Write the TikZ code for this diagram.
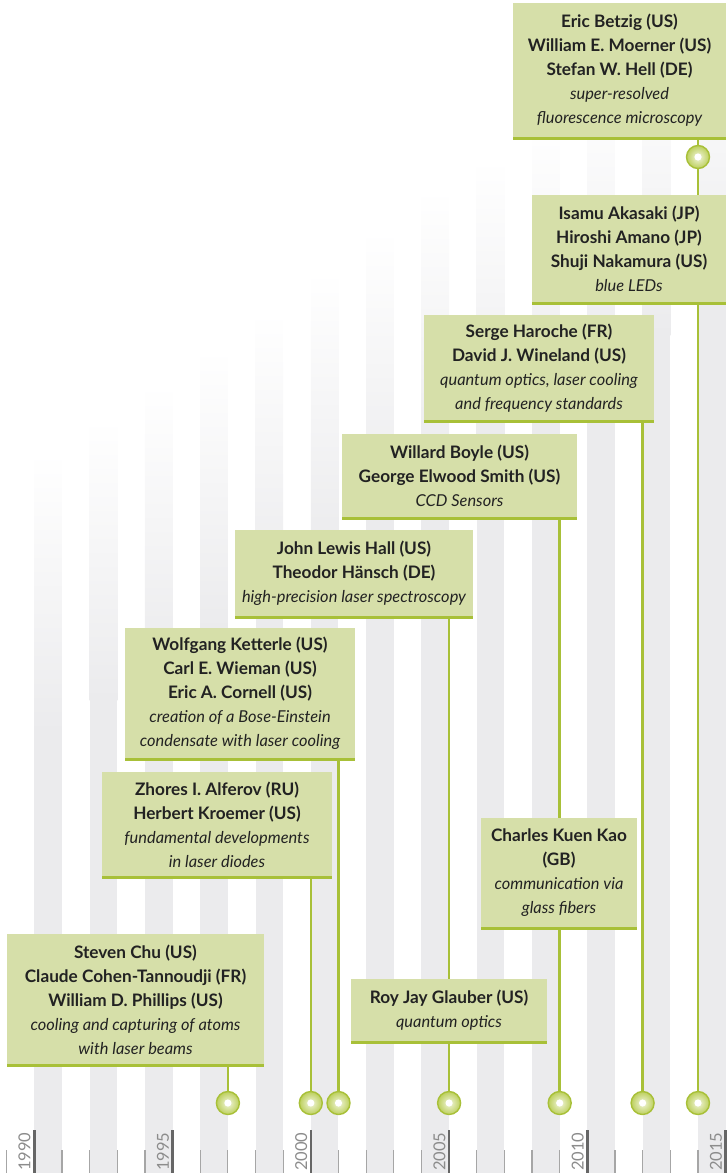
\documentclass[tikz,border=0pt]{standalone}
\usepackage{fontspec}
\setmainfont{Lato}
\usetikzlibrary{positioning}
\definecolor{leaf}{RGB}{214,223,169}
\definecolor{stemgreen}{RGB}{168,192,56}
\definecolor{dotgreen}{RGB}{188,207,92}
\definecolor{dotlight}{RGB}{242,246,222}
\definecolor{stripe}{RGB}{235,235,237}
\definecolor{ink}{RGB}{34,34,34}
\definecolor{yeargrey}{RGB}{140,140,140}
\newcommand{\motiv}[1]{{\normalfont\itshape\fontsize{16.4}{24}\selectfont #1}}

\begin{document}
\begin{tikzpicture}[x=1pt,y=-1pt,
  prize/.style={anchor=north west,fill=leaf,inner sep=0pt,outer sep=0pt,align=center,
                text=ink,font=\fontsize{17.2}{24}\selectfont\bfseries},
  rim/.style={draw=stemgreen,line width=3pt},
  stem/.style={draw=stemgreen,line width=2.5pt},
  dot/.style={circle,minimum size=23pt,inner sep=0pt,draw=stemgreen,line width=1.4pt,
              inner color=dotlight,outer color=dotgreen,
              path picture={\fill[white] (path picture bounding box.center) circle (3.6);}},
  tick/.style={draw=black!35,line width=1.2pt},
  bigtick/.style={draw=black!60,line width=2.6pt},
  yearlbl/.style={rotate=90,anchor=base west,inner sep=0pt,text=yeargrey,
                  font=\fontsize{16.5}{16.5}\selectfont}]
\useasboundingbox (0,0) rectangle (727,1173);

% background stripes, fading upwards
\foreach \k/\t in {0/453,1/420,2/385,3/350,4/313,5/272,6/231,7/190,8/160,9/125,10/90,11/55,12/20}{
  \pgfmathsetmacro{\xa}{34.3+55.3*\k}
  \pgfmathsetmacro{\xb}{\xa+27.65}
  \shade[top color=white,bottom color=stripe] (\xa,\t) rectangle (\xb,\t+280);
  \fill[stripe] (\xa,\t+279.5) rectangle (\xb,1173);
}

% year axis
\foreach \yr in {1989,...,2015}{
  \pgfmathsetmacro{\tx}{34.3+27.65*(\yr-1990)}
  \draw[tick] (\tx,1150) -- (\tx,1173);
}
\foreach \yr in {1990,1995,...,2015}{
  \pgfmathsetmacro{\tx}{34.3+27.65*(\yr-1990)}
  \draw[bigtick] (\tx,1130) -- (\tx,1173);
  \node[yearlbl] (y\yr) at (\tx-3.8,1171) {\yr};
}

\node[dot] (d1997) at (227.9,1103) {};
\node[dot] (d2000) at (310.8,1103) {};
\node[dot] (d2001) at (338.5,1103) {};
\node[dot] (d2005) at (449.1,1103) {};
\node[dot] (d2009) at (559.7,1103) {};
\node[dot] (d2012) at (642.6,1103) {};
\node[dot] (d2014) at (698.0,1103) {};
\node[dot] (dtop) at (698.0,157) {};

\node[prize,minimum width=213,minimum height=135] (betzig) at (513,3)
  {Eric Betzig (US)\\William E. Moerner (US)\\Stefan W. Hell (DE)\\
   \motiv{super-resolved}\\\motiv{fluorescence microscopy}};
\node[prize,minimum width=194,minimum height=108] (akasaki) at (532,195)
  {Isamu Akasaki (JP)\\Hiroshi Amano (JP)\\Shuji Nakamura (US)\\\motiv{blue LEDs}};
\node[prize,minimum width=230,minimum height=106] (haroche) at (424,315)
  {Serge Haroche (FR)\\David J. Wineland (US)\\
   \motiv{quantum optics, laser cooling}\\\motiv{and frequency standards}};
\node[prize,minimum width=235,minimum height=84] (boyle) at (342,434)
  {Willard Boyle (US)\\George Elwood Smith (US)\\\motiv{CCD Sensors}};
\node[prize,minimum width=238,minimum height=87] (hall) at (235,530)
  {John Lewis Hall (US)\\Theodor Hänsch (DE)\\\motiv{high-precision laser spectroscopy}};
\node[prize,minimum width=230,minimum height=131] (ketterle) at (125,628)
  {Wolfgang Ketterle (US)\\Carl E. Wieman (US)\\Eric A. Cornell (US)\\
   \motiv{creation of a Bose-Einstein}\\\motiv{condensate with laser cooling}};
\node[prize,minimum width=230,minimum height=105] (alferov) at (102,772)
  {Zhores I. Alferov (RU)\\Herbert Kroemer (US)\\
   \motiv{fundamental developments}\\\motiv{in laser diodes}};
\node[prize,minimum width=156,minimum height=110] (kao) at (481,818)
  {Charles Kuen Kao\\(GB)\\\motiv{communication via}\\\motiv{glass fibers}};
\node[prize,minimum width=196,minimum height=63] (glauber) at (351,979)
  {Roy Jay Glauber (US)\\\motiv{quantum optics}};
\node[prize,minimum width=257,minimum height=131] (chu) at (7,934)
  {Steven Chu (US)\\Claude Cohen-Tannoudji (FR)\\William D. Phillips (US)\\
   \motiv{cooling and capturing of atoms}\\\motiv{with laser beams}};

\draw[stem] (chu.south -| d1997) -- (d1997.north);
\draw[stem] (alferov.south -| d2000) -- (d2000.north);
\draw[stem] (ketterle.south -| d2001) -- (d2001.north);
\draw[stem] (hall.south -| d2005) -- (glauber.north -| d2005);
\draw[stem] (glauber.south -| d2005) -- (d2005.north);
\draw[stem] (boyle.south -| d2009) -- (kao.north -| d2009);
\draw[stem] (kao.south -| d2009) -- (d2009.north);
\draw[stem] (haroche.south -| d2012) -- (d2012.north);
\draw[stem] (akasaki.south -| d2014) -- (d2014.north);
\draw[stem] (betzig.south -| dtop) -- (dtop.north);
\draw[stem] (dtop.south) -- (akasaki.north -| dtop);

\foreach \b in {betzig,akasaki,haroche,boyle,hall,ketterle,alferov,kao,glauber,chu}
  \draw[rim] (\b.south west) -- (\b.south east);
\end{tikzpicture}
\end{document}
